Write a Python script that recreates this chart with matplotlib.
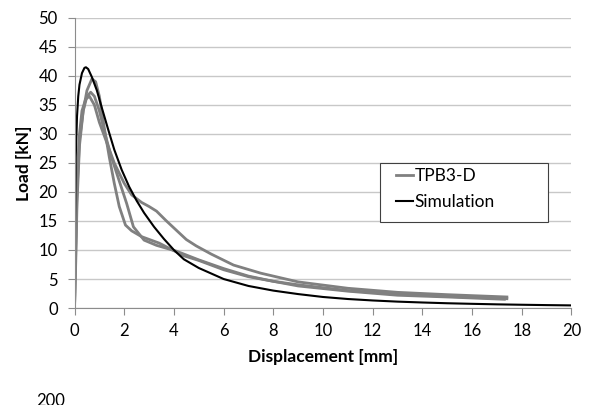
import matplotlib
matplotlib.use("Agg")
import matplotlib.pyplot as plt
from matplotlib.patches import Rectangle

plt.rcParams["font.family"] = ["Lato", "DejaVu Sans"]

# --- Test data (TPB3-D, three specimens) ---
t1_x = [0, 0.05, 0.1, 0.2, 0.3, 0.45, 0.6, 0.8, 1.0, 1.3, 1.6, 2.0, 2.3, 2.7, 3.0, 3.3,
        3.7, 4.1, 4.5, 4.9, 5.5, 6.4, 7.5, 9.0, 11, 13, 15, 17.4]
t1_y = [0, 12, 22, 30, 34, 36, 36.5, 35, 32, 28.5, 25, 21.5, 19.5, 18.2, 17.5, 16.7,
        15.0, 13.4, 11.8, 10.7, 9.3, 7.4, 6.0, 4.5, 3.4, 2.7, 2.3, 1.9]

t2_x = [0, 0.05, 0.1, 0.2, 0.35, 0.5, 0.7, 0.85, 1.0, 1.2, 1.4, 1.6, 1.8, 2.05, 2.3,
        2.7, 3.4, 4.4, 5.0, 6.0, 7.0, 8.0, 9.0, 11, 13, 15, 17.4]
t2_y = [0, 10, 20, 29, 34, 37.5, 39.5, 39, 36.5, 31, 26, 21.5, 17.5, 14.3, 13.3,
        12.3, 11.2, 9.0, 8.2, 6.6, 5.4, 4.6, 4.0, 3.0, 2.4, 2.0, 1.6]

t3_x = [0, 0.05, 0.1, 0.2, 0.35, 0.5, 0.65, 0.8, 1.0, 1.2, 1.45, 1.7, 2.1, 2.37, 2.8,
        3.3, 4.1, 5.0, 6.0, 7.0, 8.0, 9.0, 11, 13, 15, 17.3]
t3_y = [0, 8, 18, 28, 34, 36.5, 37.2, 36.5, 34, 30.5, 26.5, 23.2, 18.0, 14.0, 11.7,
        10.8, 9.8, 8.3, 6.8, 5.5, 4.6, 3.8, 2.9, 2.2, 1.9, 1.5]

# --- Simulation ---
sim_x = [0, 0.02, 0.05, 0.1, 0.15, 0.2, 0.3, 0.4, 0.46, 0.55, 0.7, 0.9, 1.1, 1.36,
         1.6, 1.9, 2.2, 2.5, 2.8, 3.2, 3.6, 4.0, 4.4, 5.0, 6.0, 7.0, 8.0, 9.0, 10,
         11, 12, 13, 14, 15, 16, 17, 18, 19, 20]
sim_y = [3, 15, 26, 33, 36.5, 38.5, 40.5, 41.4, 41.5, 41.2, 39.8, 37.5, 34.5, 30.7,
         27.3, 23.8, 20.9, 18.5, 16.4, 14.0, 11.9, 10.0, 8.4, 6.9, 5.0, 3.8, 3.0,
         2.4, 1.9, 1.55, 1.3, 1.1, 0.95, 0.82, 0.72, 0.63, 0.56, 0.5, 0.45]

x_ticks = list(range(0, 21, 2))
y_ticks = list(range(0, 51, 5))

fig = plt.figure(figsize=(5.9, 4.05), dpi=100)
ax = fig.add_axes([0.1263, 0.2395, 0.8423, 0.7161])

grey = "#808080"
ax.plot(t1_x, t1_y, color=grey, lw=2.0, label="TPB3-D")
ax.plot(t2_x, t2_y, color=grey, lw=2.0)
ax.plot(t3_x, t3_y, color=grey, lw=2.0)
ax.plot(sim_x, sim_y, color="black", lw=1.5, label="Simulation")

ax.set_xlim(0, 20)
ax.set_ylim(0, 50)
ax.set_xticks(x_ticks)
ax.set_yticks(y_ticks)
ax.yaxis.grid(True, color="#c8c8c8", lw=1.0)
ax.set_axisbelow(True)
for s in ["top", "right"]:
    ax.spines[s].set_visible(False)
for s in ["left", "bottom"]:
    ax.spines[s].set_color("#8c8c8c")
ax.tick_params(axis="both", colors="#8c8c8c", labelcolor="black", labelsize=12,
               length=5, direction="out")
ax.tick_params(axis="x", pad=6)
ax.tick_params(axis="y", pad=7)

ax.set_xlabel("Displacement [mm]", fontsize=12.5, fontweight="bold", labelpad=7)
ax.set_ylabel("Load [kN]", fontsize=12.5, fontweight="bold", labelpad=5)

# legend box drawn separately (wide Excel-style frame)
box = Rectangle((0.615, 0.2966), 0.338, 0.2034, transform=ax.transAxes,
                facecolor="white", edgecolor="#404040", lw=0.8, zorder=5)
ax.add_patch(box)
leg = ax.legend(loc="upper left", bbox_to_anchor=(0.632, 0.505), fontsize=12.5,
                frameon=False, handlelength=1.0, handletextpad=0.1, borderpad=0.4,
                labelspacing=0.55, borderaxespad=0)
leg.set_zorder(6)

# partially cut-off text at the bottom edge
fig.text(0.061, 0.03, "200", fontsize=12, va="top", ha="left")

fig.savefig("out.png", dpi=100)
